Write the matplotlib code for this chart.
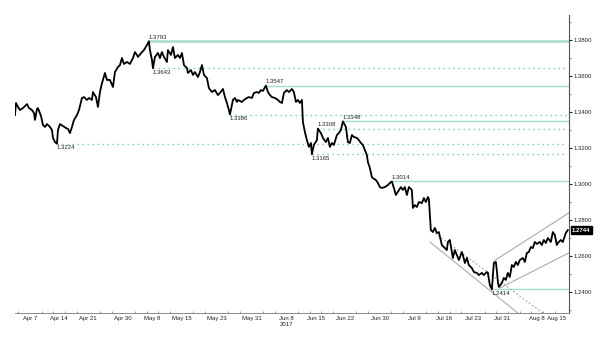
import matplotlib
matplotlib.use("Agg")
import matplotlib.pyplot as plt
import matplotlib.transforms as mtransforms
import numpy as np

plt.rcParams.update({
    "font.family": ["Liberation Sans", "DejaVu Sans"],
    "font.size": 4.3,
})

# x = trading sessions since Mon 2017-04-03 (weekends removed)
sess = [
    1.43, 1.60, 1.94, 2.28, 2.80, 3.49, 3.83, 4.34, 4.69, 4.86, 5.20, 5.37, 5.89, 6.23,
    6.57, 6.92, 7.43, 7.77, 7.95, 8.29, 8.63, 8.80, 9.15, 9.66, 10.18, 10.52, 10.86,
    11.20, 11.55, 12.06, 12.41, 12.92, 13.26, 13.78, 14.12, 14.63, 14.81, 15.32, 15.66,
    16.01, 16.35, 16.52, 16.86, 17.21, 17.72, 18.24, 18.58, 19.09, 19.44, 19.78, 20.12,
    20.64, 21.15, 21.67, 22.01, 22.35, 22.53, 23.21, 23.55, 24.07, 24.41, 24.58, 24.93,
    25.10, 25.44, 25.96, 26.30, 26.64, 26.99, 27.50, 27.67, 28.19, 28.53, 28.87, 29.39,
    29.73, 30.07, 30.42, 30.93, 31.10, 31.62, 31.96, 32.30, 32.82, 33.16, 33.50, 33.85,
    34.36, 34.70, 35.22, 35.73, 36.25, 36.59, 37.11, 37.45, 37.79, 38.13, 38.31, 38.82,
    39.16, 39.51, 39.68, 40.36, 40.71, 41.22, 41.57, 42.08, 42.42, 42.94, 43.28, 43.62,
    43.97, 44.48, 44.83, 45.17, 45.51, 46.02, 46.54, 46.88, 47.23, 47.57, 48.08, 48.43,
    48.94, 49.28, 49.63, 49.97, 50.31, 50.66, 50.83, 51.17, 51.51, 51.86, 52.20, 52.37,
    52.71, 53.23, 53.40, 53.92, 54.26, 54.77, 55.12, 55.46, 55.80, 56.14, 56.66, 57.00,
    57.35, 57.69, 58.20, 58.55, 58.89, 59.23, 59.58, 60.09, 60.43, 60.78, 61.12, 61.46,
    61.80, 61.98, 62.32, 62.66, 62.83, 63.35, 63.69, 64.03, 64.38, 64.89, 65.41, 65.75,
    66.09, 66.44, 66.78, 67.12, 67.64, 67.98, 68.32, 68.67, 69.01, 69.52, 69.70, 70.04,
    70.38, 70.73, 71.24, 71.58, 71.93, 72.27, 72.44, 72.78, 73.13, 73.47, 73.81, 74.15,
    74.67, 75.01, 75.53, 75.70, 76.04, 76.39, 76.56, 76.90, 77.24, 77.59, 78.10, 78.27,
    78.62, 78.96, 79.30, 79.82, 80.16, 80.67, 81.02, 81.53, 81.87, 82.39, 82.56, 82.90,
    83.25, 83.59, 83.93, 84.10, 84.28, 84.45, 84.96, 85.31, 85.65, 85.99, 86.33, 86.68,
    87.02, 87.36, 87.71, 88.05, 88.56, 88.91, 89.25, 89.59, 89.94, 90.28, 90.62, 90.97,
    91.48, 91.82, 92.17, 92.51, 92.85, 93.37, 93.71, 94.05, 94.40, 94.57, 95.08, 95.42,
    95.94, 96.28,
]
price = [
    1.3383, 1.3450, 1.3428, 1.3411, 1.3422, 1.3444, 1.3422, 1.3411, 1.3394, 1.3356, 1.3417, 1.3422, 1.3378, 1.3328,
    1.3317, 1.3333, 1.3317, 1.3300, 1.3256, 1.3233, 1.3224, 1.3300, 1.3333, 1.3322, 1.3311, 1.3306, 1.3283,
    1.3317, 1.3356, 1.3383, 1.3411, 1.3478, 1.3483, 1.3467, 1.3478, 1.3467, 1.3511, 1.3483, 1.3428,
    1.3511, 1.3561, 1.3578, 1.3617, 1.3578, 1.3578, 1.3539, 1.3622, 1.3650, 1.3661, 1.3700, 1.3667,
    1.3678, 1.3667, 1.3700, 1.3733, 1.3717, 1.3706, 1.3733, 1.3744, 1.3772, 1.3793, 1.3744, 1.3689,
    1.3643, 1.3706, 1.3728, 1.3700, 1.3733, 1.3706, 1.3678, 1.3744, 1.3717, 1.3761, 1.3700, 1.3717,
    1.3700, 1.3728, 1.3661, 1.3644, 1.3617, 1.3633, 1.3606, 1.3622, 1.3594, 1.3622, 1.3661, 1.3606,
    1.3589, 1.3533, 1.3511, 1.3522, 1.3494, 1.3506, 1.3528, 1.3483, 1.3450, 1.3411, 1.3386, 1.3467,
    1.3478, 1.3456, 1.3467, 1.3456, 1.3467, 1.3478, 1.3483, 1.3478, 1.3506, 1.3511, 1.3506, 1.3522,
    1.3517, 1.3547, 1.3511, 1.3494, 1.3483, 1.3478, 1.3467, 1.3456, 1.3450, 1.3506, 1.3522, 1.3511,
    1.3528, 1.3511, 1.3456, 1.3467, 1.3450, 1.3467, 1.3344, 1.3289, 1.3244, 1.3206, 1.3228, 1.3165,
    1.3217, 1.3244, 1.3308, 1.3283, 1.3256, 1.3233, 1.3256, 1.3206, 1.3228, 1.3217, 1.3272, 1.3283,
    1.3300, 1.3348, 1.3317, 1.3233, 1.3228, 1.3272, 1.3261, 1.3256, 1.3244, 1.3228, 1.3217, 1.3189,
    1.3161, 1.3122, 1.3089, 1.3039, 1.3033, 1.3022, 1.3006, 1.2983, 1.2978, 1.2983, 1.2994, 1.3006,
    1.3014, 1.2978, 1.2939, 1.2956, 1.2983, 1.2967, 1.2983, 1.2939, 1.2983, 1.2967, 1.2867, 1.2883,
    1.2872, 1.2900, 1.2894, 1.2922, 1.2900, 1.2928, 1.2917, 1.2744, 1.2733, 1.2756, 1.2728, 1.2733,
    1.2661, 1.2650, 1.2633, 1.2678, 1.2689, 1.2622, 1.2589, 1.2633, 1.2606, 1.2578, 1.2622, 1.2606,
    1.2561, 1.2589, 1.2550, 1.2533, 1.2511, 1.2506, 1.2494, 1.2506, 1.2494, 1.2511, 1.2506, 1.2439,
    1.2414, 1.2561, 1.2567, 1.2522, 1.2456, 1.2428, 1.2450, 1.2478, 1.2467, 1.2506, 1.2483, 1.2550,
    1.2539, 1.2567, 1.2550, 1.2578, 1.2589, 1.2567, 1.2617, 1.2622, 1.2650, 1.2644, 1.2678, 1.2667,
    1.2678, 1.2661, 1.2689, 1.2672, 1.2700, 1.2678, 1.2733, 1.2717, 1.2661, 1.2672, 1.2689, 1.2678,
    1.2728, 1.2744,
]
last_price = 1.2744

# support / resistance levels: value, session where it starts, solid?, label above?
levels      = [1.3793, 1.3643, 1.3547, 1.3386, 1.3348, 1.3308, 1.3224, 1.3165, 1.3014, 1.2414]
level_start = [24.41, 25.10, 44.48, 38.31, 57.69, 53.40, 8.63, 52.37, 66.09, 83.25]
level_solid = [True, False, True, False, True, False, False, False, True, True]
label_above = [True, False, True, False, True, True, False, False, True, False]

# trend channels: (session0, price0, session1, price1, style)
channels = [
    (72.61, 1.2678, 87.71, 1.2283, "-"),
    (72.95, 1.2739, 91.99, 1.2283, "--"),
    (83.59, 1.2572, 96.45, 1.2839, "-"),
    (84.62, 1.2422, 96.45, 1.2617, "-"),
]

tick_dates  = ["2017-04-07", "2017-04-14", "2017-04-21", "2017-04-30", "2017-05-08",
               "2017-05-15", "2017-05-23", "2017-05-31", "2017-06-08", "2017-06-15",
               "2017-06-22", "2017-06-30", "2017-07-09", "2017-07-16", "2017-07-23",
               "2017-07-31", "2017-08-08", "2017-08-15"]
tick_labels = ["Apr 7", "Apr 14", "Apr 21", "Apr 30", "May 8", "May 15", "May 23",
               "May 31", "Jun 8\n2017", "Jun 15", "Jun 22", "Jun 30", "Jul 9",
               "Jul 16", "Jul 23", "Jul 31", "Aug 8", "Aug 15"]
tick_pos = np.busday_count("2017-04-03", tick_dates)

SOLID_GREEN = "#a9dcc4"
DOT_GREEN = "#6fcfa6"
GRID_GRAY = "#a0a0a0"

fig = plt.figure(figsize=(6, 3.39), dpi=100)
ax = fig.add_axes([0.025, 0.0767, 0.923, 0.879])

xmax = 96.45
for lv, st, solid, above in zip(levels, level_start, level_solid, label_above):
    if solid:
        ax.plot([st, xmax], [lv, lv], color=SOLID_GREEN,
                lw=1.8 if lv == max(levels) else 1.0, zorder=1)
    else:
        ax.plot([st, xmax - 0.3], [lv, lv], color=DOT_GREEN, lw=1.0,
                linestyle=(0, (1, 2.6)), zorder=1)
    ax.annotate(f"{lv:.4f}", (st, lv), textcoords="offset points",
                xytext=(0, 1.0 if above else -1.3), ha="left",
                va="bottom" if above else "top", fontsize=4.3, color="#222222",
                zorder=4)

for x0, y0, x1, y1, ls in channels:
    ax.plot([x0, x1], [y0, y1], color=GRID_GRAY, lw=0.7, linestyle=ls,
            dashes=(2, 2) if ls == "--" else (None, None), zorder=1)

ax.plot(sess, price, color="black", lw=1.3, zorder=3)

ax.set_xlim(1.43, xmax)
ax.set_ylim(1.22833, 1.39389)

for s in ["top", "left"]:
    ax.spines[s].set_visible(False)
ax.spines["bottom"].set_color("#777777")
ax.spines["bottom"].set_linewidth(0.6)
ax.spines["right"].set_color("#555555")
ax.spines["right"].set_linewidth(0.8)

ax.yaxis.tick_right()
ax.set_yticks(np.arange(1.24, 1.381, 0.02))
ax.set_yticklabels([f"{v:.4f}" for v in np.arange(1.24, 1.381, 0.02)])
ax.set_yticks(np.arange(1.23, 1.391, 0.01), minor=True)
ax.tick_params(axis="y", which="major", length=2, width=0.8, pad=1.5,
               labelsize=4.3, colors="#222222")
ax.tick_params(axis="y", which="minor", length=1.2, width=0.5, colors="#555555")

ax.set_xticks(tick_pos)
ax.set_xticklabels(tick_labels)
for lbl in ax.get_xticklabels():
    if lbl.get_text() == "Aug 15":
        lbl.set_ha("right")
ax.set_xticks(np.arange(2, 97, 2), minor=True)
ax.tick_params(axis="x", which="major", length=0, pad=2.0, labelsize=4.3,
               colors="#222222")
ax.tick_params(axis="x", which="minor", length=1.3, width=0.5, direction="in",
               colors="#777777")

trans = mtransforms.blended_transform_factory(ax.transAxes, ax.transData)
ax.text(1.006, last_price, f"{last_price:.4f}", transform=trans, ha="left",
        va="center", fontsize=4.3, color="white", fontweight="bold",
        bbox=dict(facecolor="black", edgecolor="black", pad=1.0), zorder=5)

fig.savefig("out.png", dpi=100)
